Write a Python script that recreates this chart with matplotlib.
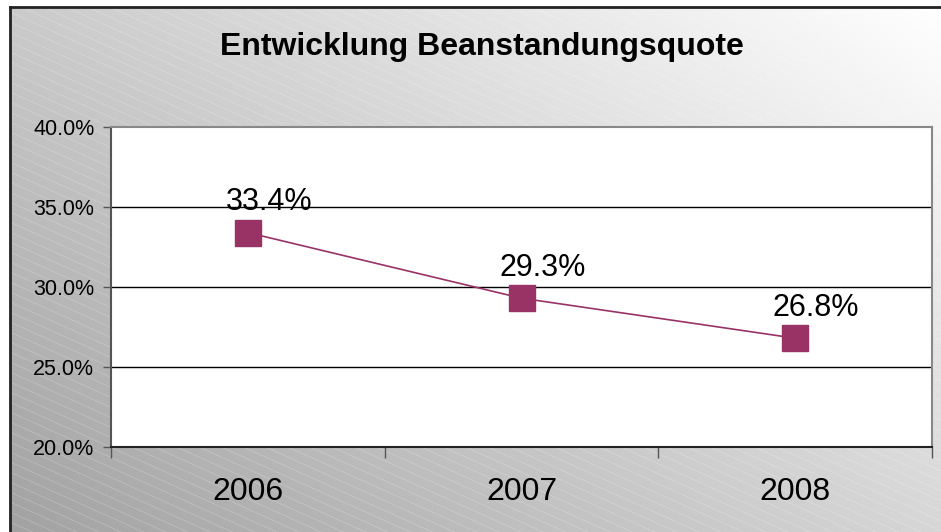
import numpy as np
import matplotlib
matplotlib.use("Agg")
import matplotlib.pyplot as plt
from matplotlib.collections import LineCollection
from matplotlib.ticker import FuncFormatter, FixedLocator

plt.rcParams['font.family'] = ['Liberation Sans', 'DejaVu Sans']

# === Data
years = ["2006", "2007", "2008"]
quote = [33.4, 29.3, 26.8]
value_labels = ["33.4%", "29.3%", "26.8%"]

W, H = 941, 532
fig = plt.figure(figsize=(W / 100, H / 100), dpi=100)
fig.patch.set_facecolor("white")

# === Chart area background: diagonal gray gradient + faint stripes
bg = fig.add_axes([10 / W, 0, (W - 10) / W, (H - 7) / H])
bg.set_xlim(0, 1)
bg.set_ylim(0, 1)
xx, yy = np.meshgrid(np.linspace(0, 1, 200), np.linspace(0, 1, 200))
grad = (162 + 52 * xx + 40 * yy) / 255.0
bg.imshow(grad, cmap="gray", vmin=0, vmax=1, origin="lower",
          extent=[0, 1, 0, 1], aspect="auto", interpolation="bilinear")
aw, ah = (W - 10), (H - 7)
segs = []
for c in np.arange(-300, ah + 600, 10):
    x0, y0 = 0, c
    x1, y1 = aw, c - 0.45 * aw
    segs.append([(x0 / aw, y0 / ah), (x1 / aw, y1 / ah)])
bg.add_collection(LineCollection(segs, colors="white", linewidths=0.5, alpha=0.25))
bg.set_xticks([])
bg.set_yticks([])
for s in ["right", "bottom"]:
    bg.spines[s].set_visible(False)
for s in ["top", "left"]:
    bg.spines[s].set_linewidth(2)
    bg.spines[s].set_color("#222222")

# === Plot area
ax = fig.add_axes([111 / W, (H - 447) / H, 821 / W, 320 / H])
ax.set_facecolor("white")
x = np.arange(len(years))
ax.plot(x, quote, color="#993366", linewidth=1.2, marker="s", markersize=18.5,
        markerfacecolor="#993366", markeredgecolor="#993366", zorder=3)

for xi, yi, lab in zip(x, quote, value_labels):
    ax.annotate(lab, (xi, yi), xytext=(15, 16), textcoords="offset points",
                ha="center", va="baseline", fontsize=22, color="black")

ax.set_xlim(-0.5, 2.5)
ax.set_ylim(20, 40)
ax.yaxis.set_major_locator(FixedLocator([20, 25, 30, 35, 40]))
ax.yaxis.set_major_formatter(FuncFormatter(lambda v, p: f"{v:.1f}%"))
for gy in [25, 30, 35]:
    ax.axhline(gy, color="black", linewidth=1, zorder=1)

ax.set_xticks([-0.5, 0.5, 1.5, 2.5])
ax.set_xticklabels([])
ax.tick_params(axis="x", direction="out", length=8, width=1, color="#555555")
ax.tick_params(axis="y", direction="out", length=6, width=1, color="#555555",
               labelsize=15.5, pad=6)
for xi, lab in zip(x, years):
    ax.text(xi, -0.14, lab, transform=ax.get_xaxis_transform(), ha="center",
            va="center", fontsize=23)

ax.spines["bottom"].set_color("#222222")
ax.spines["left"].set_color("#555555")
ax.spines["top"].set_color("#888888")
ax.spines["right"].set_color("#888888")
for s in ax.spines.values():
    s.set_linewidth(1.5)

fig.text(482 / W, 1 - 47 / H, "Entwicklung Beanstandungsquote", ha="center",
         va="center", fontsize=23, fontweight="bold")

fig.savefig("out.png", dpi=100)
